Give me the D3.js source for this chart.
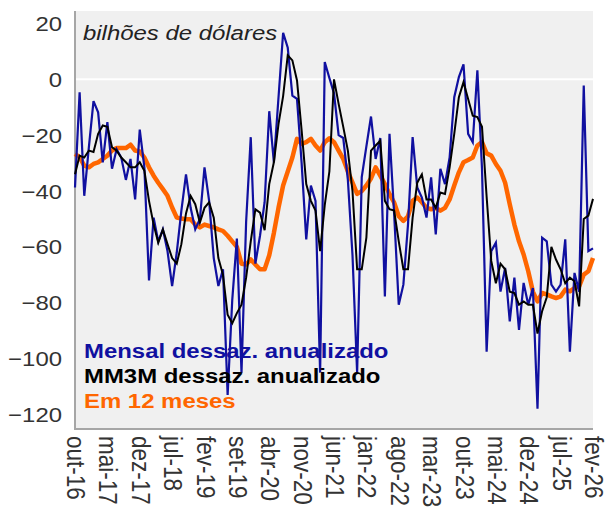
<!DOCTYPE html>
<html>
<head>
<meta charset="utf-8">
<script src="https://cdn.jsdelivr.net/npm/d3@7"></script>
<style>
  html, body { margin: 0; padding: 0; background: #fff; }
  svg { display: block; font-family: "Liberation Sans", Arial, sans-serif; }
</style>
</head>
<body>
<div id="chart"></div>
<script>
// monthly observations, out-16 .. fev-26 (113 months)
var tickLabels = ["out-16","mai-17","dez-17","jul-18","fev-19","set-19","abr-20","nov-20",
  "jun-21","jan-22","ago-22","mar-23","out-23","mai-24","dez-24","jul-25","fev-26"];
var tickStep = 7;

var mensal = [
  -38.7,-4.6,-41.7,-24.3,-7.8,-11.8,-29.7,-15.3,-32,-25,-28,-36,-28.5,-43,-18,-31.5,
  -72,-49.5,-58,-53.7,-61.5,-74,-62,-47,-34,-46,-53.7,-50,-31.5,-43.5,-64,-74,
  -68,-113,-79,-57,-105,-51,-20.7,-66,-56,-44,-11.4,-29.7,-6.5,16.7,11.3,-5.8,
  -7,-30,-57.3,-38,-43.5,-105,6.2,0.5,-5,-20,-21,-36,-63,-105,-35,-24,
  -13.3,-28.5,-21,-77.7,-19.5,-48,-80.7,-73.5,-52,-20.7,-38.7,-42.3,-49.5,-35.1,-55.5,-32,
  -37.5,-28,-6.4,0.8,5.4,-19.5,-22.5,3.2,-32,-97.5,-61.5,-58.5,-76,-67.5,-86.7,-71,
  -89.7,-72.9,-80.7,-74.7,-117.9,-56.7,-58,-73.5,-76,-73.5,-57.3,-97.5,-69.3,-76,-2.2,-61.5,
  -60.5
];

var mm3m = [
  -34,-27.3,-28,-25.5,-26,-19.5,-16.5,-17,-24.3,-25.5,-28,-29.7,-31.5,-31.5,-29.7,-32.7,
  -43.5,-52,-58.5,-53.7,-59,-64,-66,-59,-48,-41.7,-44.7,-51.3,-46,-44,-49.5,-64,
  -70,-84.3,-87.3,-83.7,-80.7,-71,-58,-46.5,-47.7,-54,-37.5,-29.7,-16,-6,8.6,6.8,
  -0.4,-18.3,-37.5,-43.5,-47,-61.5,-45,-33,0,-8.8,-17,-25.5,-40,-68,-68,-56.7,
  -25.5,-23.7,-22,-43.5,-46.5,-47,-58,-68,-68,-49.5,-37,-34,-43,-43,-46,-40.5,
  -41,-31.5,-19.5,-6.4,-1,-7,-13,-13.5,-17,-42,-65,-73,-66,-68,-76,-76.5,
  -80.7,-79.5,-80.7,-80.7,-91,-83,-78,-60,-64.5,-68,-73,-71,-72.3,-81.3,-50,-48.8,
  -42.8
];

var em12 = [
  -26.7,-27.9,-30.9,-31.5,-30.3,-29.7,-28.5,-27.3,-25.5,-24.6,-24.6,-24.6,-23.4,-25.5,-25.8,-28,
  -31.5,-34.5,-37,-39.3,-41.7,-45.9,-49.5,-49.8,-50.1,-50.1,-52,-53,-52,-52.5,-53,-53.7,
  -54.3,-56,-58,-60,-66,-66.3,-64.5,-66.3,-68,-68,-63,-55,-46,-38,-33,-28,
  -21.3,-23.1,-22.5,-21.3,-23.7,-25.5,-22.5,-21.1,-22.5,-25.5,-28.5,-33,-37,-41,-40,-38,
  -35.5,-31.5,-34.5,-37.5,-41.1,-44.1,-49,-50.7,-49,-43.5,-42.3,-44,-46,-46.5,-46,-47,
  -46,-43,-38,-33.3,-29.7,-28.9,-28,-23.7,-22.5,-26.5,-27.3,-30.3,-32.7,-37,-44.7,-52,
  -58,-62.7,-68.7,-76,-79.5,-76.5,-77,-77.7,-78.3,-77.7,-75.3,-75.9,-74.7,-74.1,-69.9,-68.7,
  -64
];

var yTicks = [20, 0, -20, -40, -60, -80, -100, -120];
var legendLabels = ["Mensal dessaz. anualizado", "MM3M dessaz. anualizado", "Em 12 meses"];
var colors = ["#1010a0", "#000000", "#ff6600"];

var W = 606, H = 507;
var plot = {left: 75, right: 593, top: 11, bottom: 429};
var sx = 1.14; // text is drawn a little wide in the reference

var x = d3.scaleLinear().domain([0, mensal.length - 1]).range([plot.left, plot.right]);
var y = d3.scaleLinear().domain([-120, 20]).range([414.5, 23.5]);

var svg = d3.select("#chart").append("svg")
    .attr("width", W)
    .attr("height", H);

svg.append("rect")
    .attr("x", plot.left)
    .attr("y", plot.top)
    .attr("width", plot.right - plot.left)
    .attr("height", plot.bottom - plot.top)
    .style("fill", "#f0f0f0");

// zero line
svg.append("line")
    .attr("x1", plot.left).attr("x2", plot.right)
    .attr("y1", y(0)).attr("y2", y(0))
    .style("stroke", "#ffffff")
    .style("stroke-width", 2);

// axis lines
svg.append("line")
    .attr("x1", plot.left).attr("x2", plot.left)
    .attr("y1", plot.top).attr("y2", plot.bottom + 1)
    .style("stroke", "#a6a6a6").style("stroke-width", 2);
svg.append("line")
    .attr("x1", plot.left).attr("x2", plot.right)
    .attr("y1", plot.bottom).attr("y2", plot.bottom)
    .style("stroke", "#a6a6a6").style("stroke-width", 2);

// y tick labels
svg.selectAll(".ytick")
    .data(yTicks)
  .enter().append("text")
    .attr("class", "ytick")
    .attr("transform", function(d){ return "translate(62," + y(d) + ") scale(" + sx + ",1)"; })
    .attr("dy", "0.36em")
    .attr("text-anchor", "end")
    .style("font-size", "21px")
    .style("fill", "#333")
    .text(function(d){ return d < 0 ? "\u2212" + Math.abs(d) : d; });

// x tick labels (rotated)
svg.selectAll(".xtick")
    .data(tickLabels)
  .enter().append("text")
    .attr("class", "xtick")
    .attr("transform", function(d, i){
        return "translate(" + (x(i * tickStep) + 1) + ",436) scale(" + sx + ",1) rotate(90)";
    })
    .attr("dy", "0.35em")
    .style("font-size", "22.5px")
    .style("fill", "#333")
    .text(function(d){ return d; });

var line = d3.line()
    .x(function(d, i){ return x(i); })
    .y(function(d){ return y(d); });

svg.append("path").datum(em12)
    .attr("d", line)
    .style("fill", "none")
    .style("stroke", colors[2])
    .style("stroke-width", 4.5)
    .style("stroke-linejoin", "round");

svg.append("path").datum(mensal)
    .attr("d", line)
    .style("fill", "none")
    .style("stroke", colors[0])
    .style("stroke-width", 2.2);

svg.append("path").datum(mm3m)
    .attr("d", line)
    .style("fill", "none")
    .style("stroke", colors[1])
    .style("stroke-width", 2);

// title
svg.append("text")
    .attr("transform", "translate(83,39.5) scale(" + sx + ",1)")
    .style("font-size", "21px")
    .style("font-style", "italic")
    .style("fill", "#222")
    .text("bilhões de dólares");

// legend
svg.selectAll(".leg")
    .data(legendLabels)
  .enter().append("text")
    .attr("class", "leg")
    .attr("transform", function(d, i){ return "translate(84," + (357.5 + i * 25) + ") scale(" + sx + ",1)"; })
    .style("font-size", "21px")
    .style("font-weight", "bold")
    .style("fill", function(d, i){ return colors[i]; })
    .text(function(d){ return d; });
</script>
</body>
</html>
